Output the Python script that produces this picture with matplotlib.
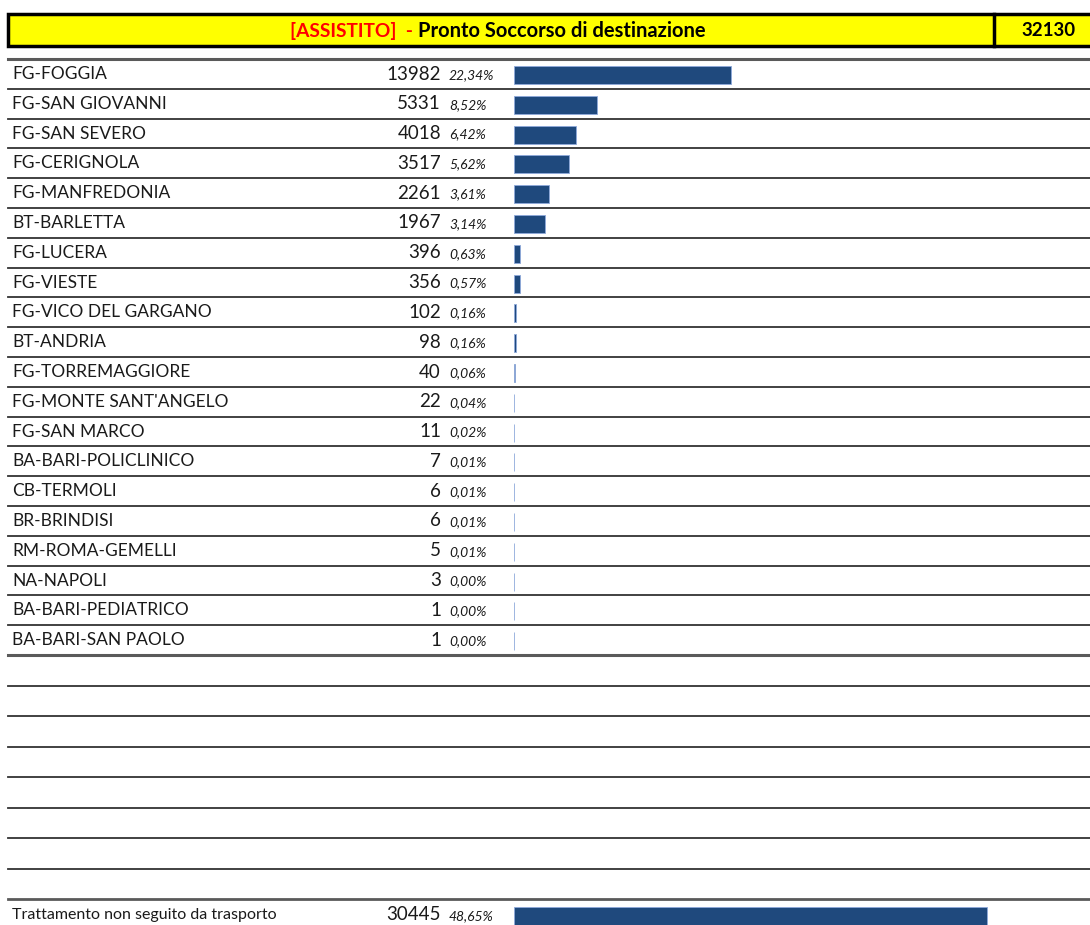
import matplotlib
matplotlib.use("Agg")
from matplotlib import pyplot as plt
from matplotlib.patches import Rectangle

plt.rcParams['font.family'] = ['Lato', 'DejaVu Sans']

title_tag = "[ASSISTITO]  - "
title_text = "Pronto Soccorso di destinazione"
total = "32130"

hospitals = ["FG-FOGGIA", "FG-SAN GIOVANNI", "FG-SAN SEVERO", "FG-CERIGNOLA", "FG-MANFREDONIA",
             "BT-BARLETTA", "FG-LUCERA", "FG-VIESTE", "FG-VICO DEL GARGANO", "BT-ANDRIA",
             "FG-TORREMAGGIORE", "FG-MONTE SANT'ANGELO", "FG-SAN MARCO", "BA-BARI-POLICLINICO",
             "CB-TERMOLI", "BR-BRINDISI", "RM-ROMA-GEMELLI", "NA-NAPOLI", "BA-BARI-PEDIATRICO",
             "BA-BARI-SAN PAOLO"]
counts = [13982, 5331, 4018, 3517, 2261, 1967, 396, 356, 102, 98, 40, 22, 11, 7, 6, 6, 5, 3, 1, 1]
percents = [22.34, 8.52, 6.42, 5.62, 3.61, 3.14, 0.63, 0.57, 0.16, 0.16, 0.06, 0.04, 0.02,
            0.01, 0.01, 0.01, 0.01, 0.00, 0.00, 0.00]

extra_label = "Trattamento non seguito da trasporto"
extra_count = 30445
extra_percent = 48.65

W, H = 1090, 925
fig = plt.figure(figsize=(W / 100, H / 100), dpi=100)
ax = fig.add_axes([0, 0, 1, 1])
ax.set_xlim(0, W)
ax.set_ylim(H, 0)
ax.axis("off")

# header
ax.add_patch(Rectangle((8, 14), W, 32, facecolor="#ffff00", edgecolor="black", lw=2.5))
ax.plot([994, 994], [14, 46], color="black", lw=2.5)
t = ax.text(290, 31, title_tag, color="#ff0000", fontsize=13.8, fontweight="bold", va="center")
fig.canvas.draw()
bb = t.get_window_extent()
x_end = ax.transData.inverted().transform((bb.x1, bb.y0))[0]
ax.text(x_end, 31, title_text, color="black", fontsize=14.5, fontweight="bold", va="center")
ax.text(1048, 31, total, color="black", fontsize=13.5, fontweight="bold", va="center", ha="center")

# rows
row_h = 29.8
top = 59
centers = [top + 15 + i * row_h for i in range(len(hospitals))]
for i in range(len(hospitals) + 1):
    y = top + i * row_h
    lw = 2.2 if i in (0, len(hospitals)) else 1.3
    col = "#5a5a5a" if i in (0, len(hospitals)) else "#333333"
    ax.plot([8, W], [y, y], color=col, lw=lw)
last = top + len(hospitals) * row_h
for k in range(1, 9):
    y = last + k * 30.5
    ax.plot([8, W], [y, y], color="#5a5a5a" if k == 8 else "#333333", lw=2.0 if k == 8 else 1.3)

for yc, name, c, p in zip(centers, hospitals, counts, percents):
    ax.text(12, yc, name, fontsize=12.5, va="center", color="#1a1a1a")
    ax.text(441, yc, str(c), fontsize=13.5, va="center", ha="right", color="#1a1a1a")
    ax.text(449, yc + 1, f"{p:.2f}%".replace(".", ","), fontsize=10, style="italic",
            va="center", color="#1a1a1a")

extra_y = 915
ax.text(12, extra_y, extra_label, fontsize=11.5, va="center", color="#1a1a1a")
ax.text(441, extra_y, str(extra_count), fontsize=13.5, va="center", ha="right", color="#1a1a1a")
ax.text(449, extra_y + 1, f"{extra_percent:.2f}%".replace(".", ","), fontsize=10, style="italic",
        va="center", color="#1a1a1a")

# bars
x0 = 514
px_per_pct = 217 / 22.34
bax = fig.add_axes([x0 / W, 0, (W - x0) / W, 1])
bax.set_xlim(0, (W - x0) / px_per_pct)
bax.set_ylim(H, 0)
bax.axis("off")
bax.barh([c + 1 for c in centers], percents, height=18, left=0, color="#1f497d",
         edgecolor="#8eaadb", lw=0.6)
bax.barh([extra_y + 1], [extra_percent], height=18, color="#1f497d", edgecolor="#8eaadb", lw=0.6)

fig.savefig("out.png", dpi=100)
